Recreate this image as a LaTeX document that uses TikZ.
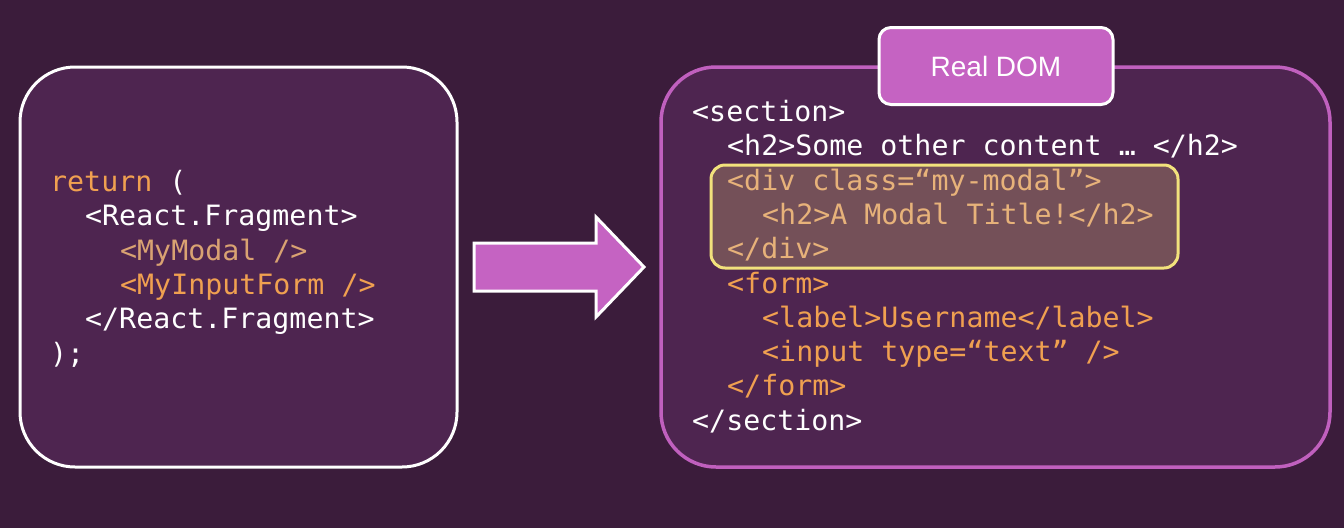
\documentclass[tikz,border=0pt]{standalone}
\usepackage{fontspec}
\setmonofont[FakeStretch=1.01]{DejaVu Sans Mono}
\setsansfont{Liberation Sans}
\definecolor{bg}{HTML}{3B1C3B}
\definecolor{panelfill}{HTML}{4E2550}
\definecolor{domedge}{HTML}{C060BE}
\definecolor{accent}{HTML}{C563C2}
\definecolor{orangecode}{HTML}{F0A050}
\definecolor{mutedcode}{HTML}{D9A272}
\definecolor{hlcode}{HTML}{E7B27A}
\definecolor{hlfill}{HTML}{745058}
\definecolor{hledge}{HTML}{F2E27C}
\begin{document}
\begin{tikzpicture}[x=1pt,y=-1pt,
  code/.style={anchor=base west, inner sep=0pt, text=white,
    font=\ttfamily\fontsize{28}{28}\selectfont},
  panel/.style={rounded corners=55pt, fill=panelfill, line width=3pt},
  badge/.style={rounded corners=12pt, fill=accent, draw=white, line width=3pt,
    text=white, font=\sffamily\fontsize{28}{28}\selectfont},
  highlight/.style={rounded corners=14pt, fill=hlfill, draw=hledge, line width=3pt}]

% background
\fill[bg] (0,0) rectangle (1344,528);
\useasboundingbox (0,0) rectangle (1344,528);

% left panel: JSX source
\node[panel, draw=white, minimum width=437pt, minimum height=400pt] (src) at (238.5,267) {};
\node[code] (s1) at (50,191.5) {\textcolor{orangecode}{return} (};
\node[code] (s2) at (85,225.8) {<React.Fragment>};
\node[code, text=mutedcode] (s3) at (120,260.1) {<MyModal />};
\node[code, text=orangecode] (s4) at (120,294.4) {<MyInputForm />};
\node[code] (s5) at (85,328.7) {</React.Fragment>};
\node[code] (s6) at (50,363) {);};

% block arrow between the panels
\fill[accent, draw=white, line width=3pt, line join=miter]
  (474,243) -- (596,243) -- (596,217) -- (644,267) -- (596,317) -- (596,291) -- (474,291) -- cycle;

% right panel: rendered DOM
\node[panel, draw=domedge, line width=3.5pt, minimum width=669pt, minimum height=400pt] (dom) at (995.5,267) {};
\node[highlight, minimum width=467pt, minimum height=103pt] (modal) at (944.5,216.5) {};

\node[code] (d1) at (692,121.5) {<section>};
\node[code] (d2) at (727,155.8) {<h2>Some other content … </h2>};
\node[code, text=hlcode] (d3) at (727,190.1) {<div class=“my-modal”>};
\node[code, text=hlcode] (d4) at (762,224.4) {<h2>A Modal Title!</h2>};
\node[code, text=hlcode] (d5) at (727,258.7) {</div>};
\node[code, text=orangecode] (d6) at (727,293) {<form>};
\node[code, text=orangecode] (d7) at (762,327.3) {<label>Username</label>};
\node[code, text=orangecode] (d8) at (762,361.6) {<input type=“text” />};
\node[code, text=orangecode] (d9) at (727,395.9) {</form>};
\node[code] (d10) at (692,430.2) {</section>};

% title badge
\node[badge, minimum width=234pt, minimum height=77pt] (title) at (996,66) {Real DOM};
\end{tikzpicture}
\end{document}
